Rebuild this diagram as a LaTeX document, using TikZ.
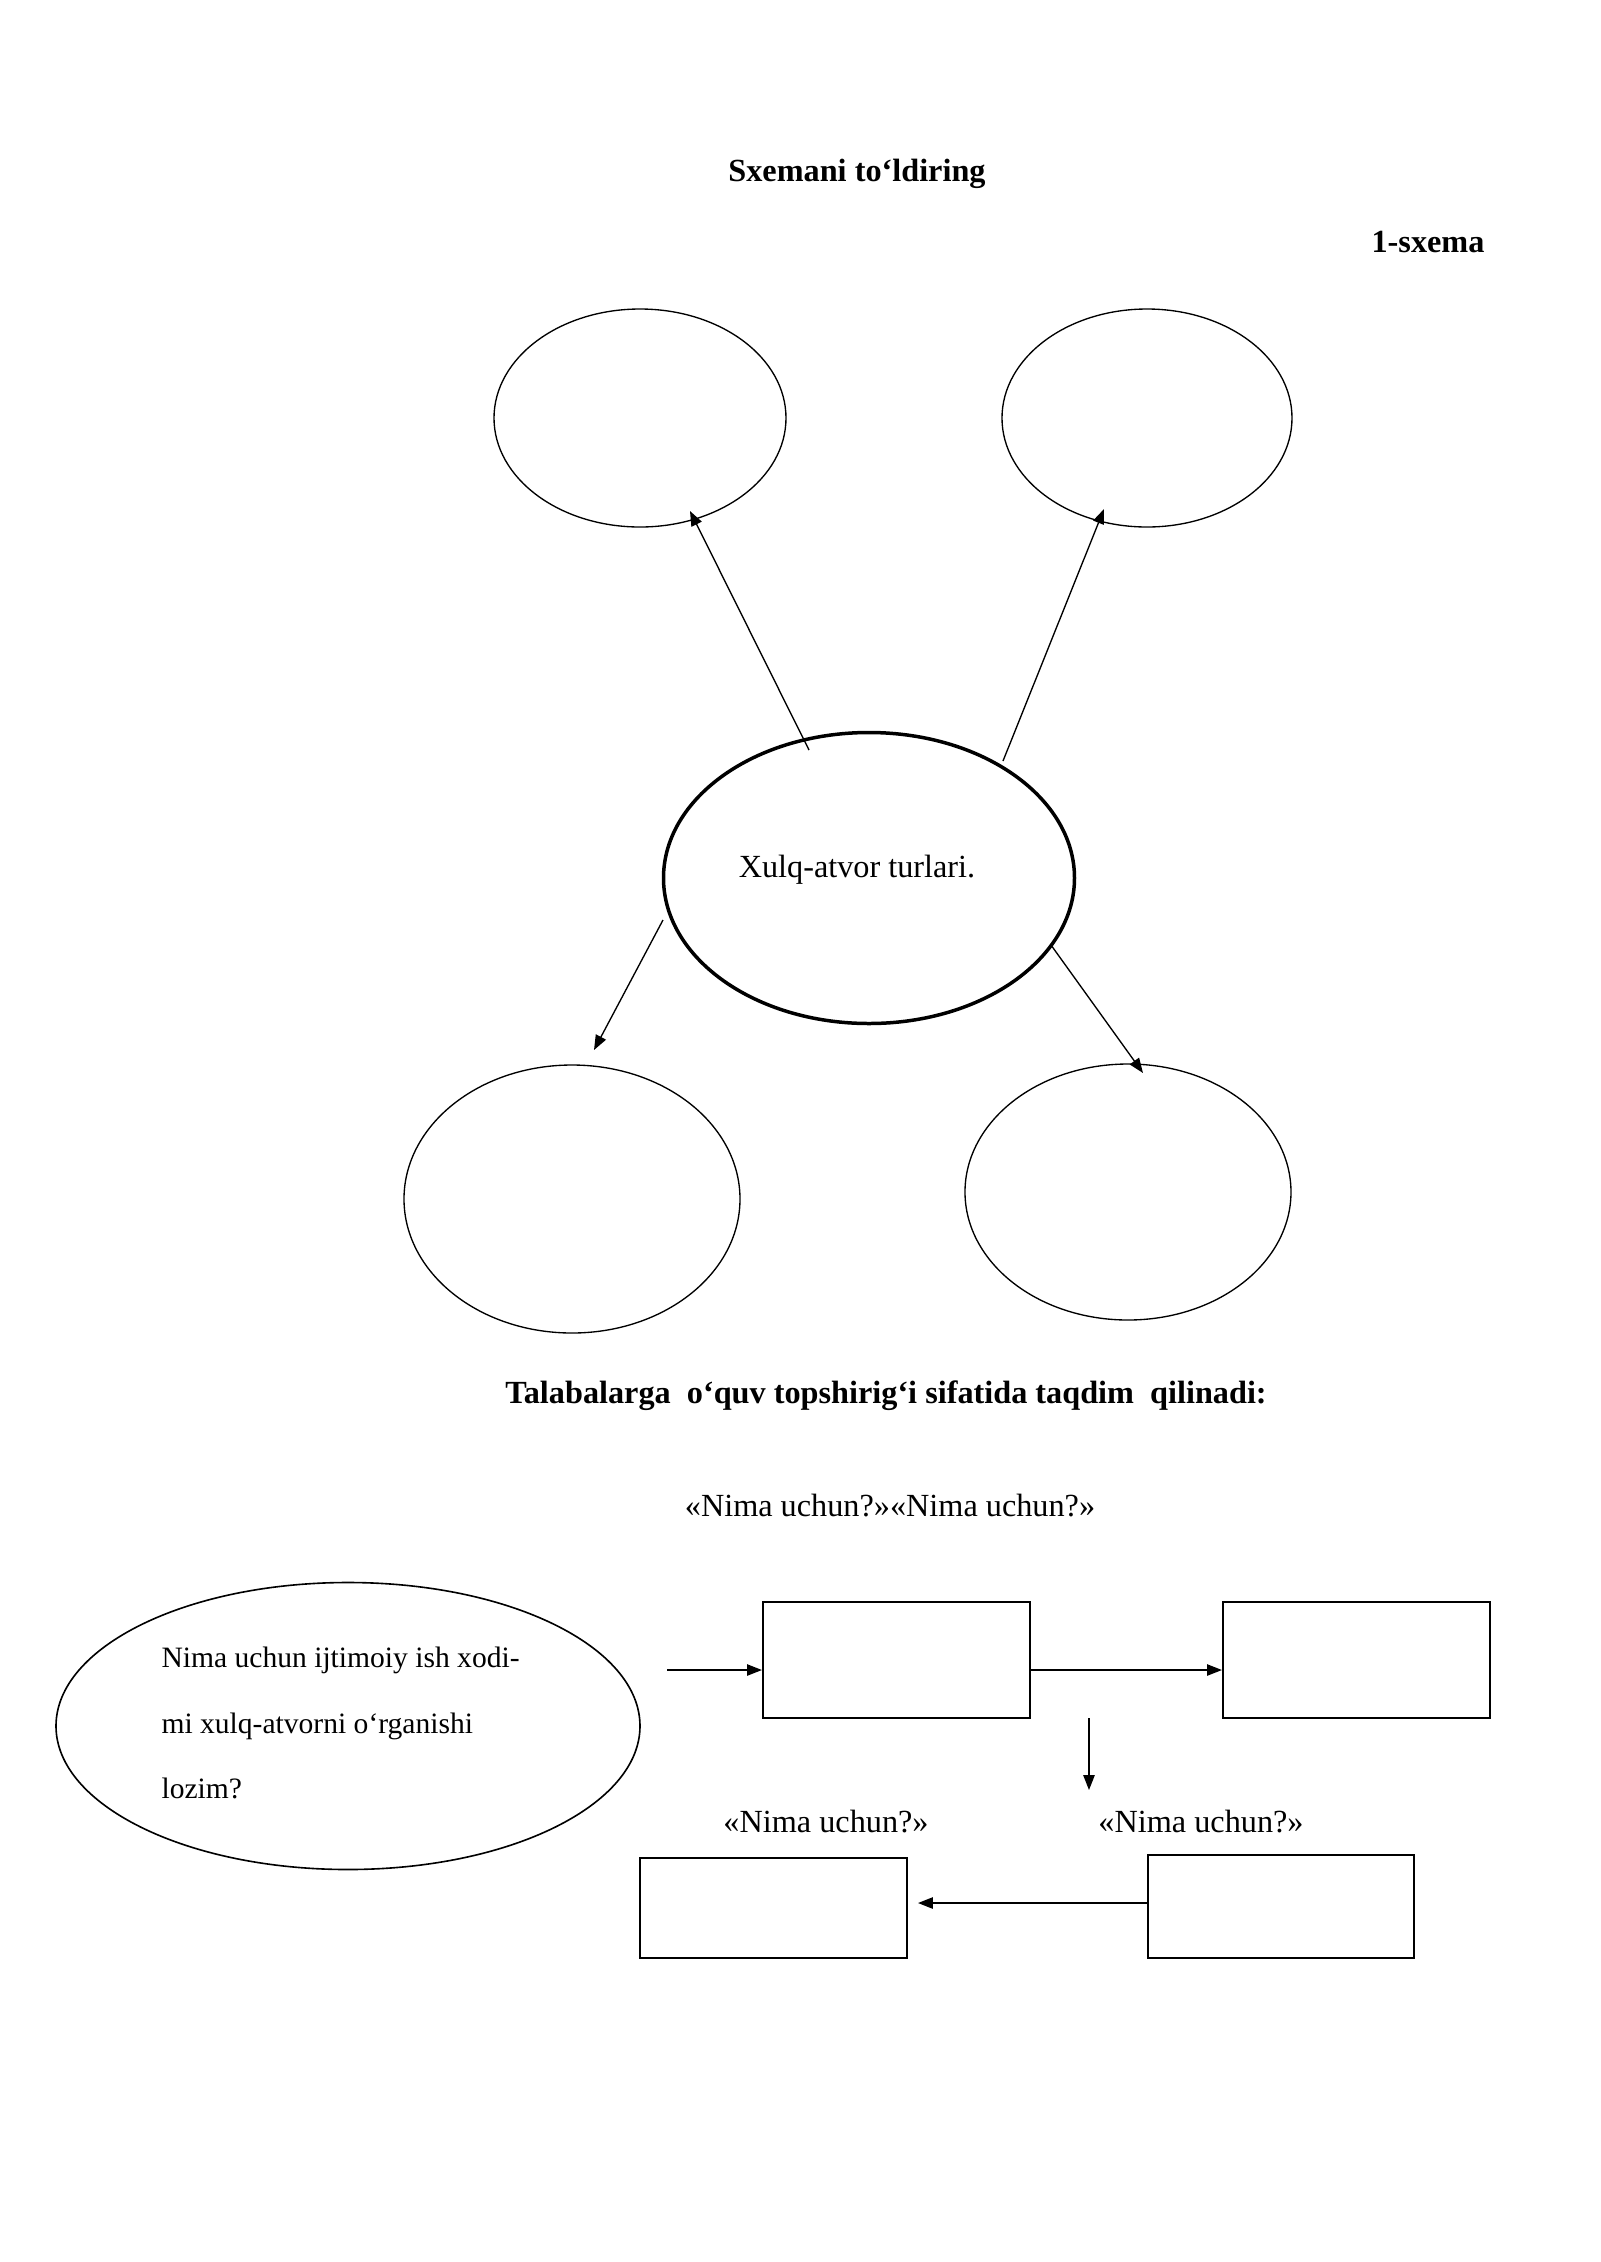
\documentclass[tikz,border=0pt]{standalone}
\usepackage{fontspec}
\setmainfont{Liberation Serif}
\usetikzlibrary{shapes.geometric,arrows.meta}
\newlength\pxu
\setlength\pxu{0.37202pt}
\begin{document}
\begin{tikzpicture}[x=0.37202pt,y=-0.37202pt,
  oval/.style={ellipse,draw,line width=0.5pt,inner sep=0pt},
  mainoval/.style={ellipse,draw,line width=1.3pt,inner sep=0pt},
  box/.style={rectangle,draw,line width=0.8pt,inner sep=0pt},
  arr/.style={-{Triangle[length=5.5pt,width=4.2pt]},line width=0.5pt},
  txt/.style={inner sep=0pt,font=\fontsize{12}{14}\selectfont},
  btxt/.style={inner sep=0pt,font=\fontsize{12}{14}\selectfont\bfseries},
  qtxt/.style={inner sep=0pt,font=\fontsize{11}{13}\selectfont,anchor=base west},
]
\useasboundingbox[fill=white] (0,0) rectangle (1600,2262);

% headings
\node[btxt,anchor=base] (title) at (857,181) {Sxemani to‘ldiring};
\node[btxt,anchor=base east] (sx) at (1485,252) {1-sxema};

% scheme 1
\node[oval,minimum width=292\pxu,minimum height=218\pxu] (tl) at (640,418) {};
\node[oval,minimum width=290\pxu,minimum height=218\pxu] (tr) at (1147,418) {};
\node[mainoval,minimum width=411\pxu,minimum height=291\pxu] (c) at (869,878) {};
\node[txt,anchor=base] (ctext) at (857,877) {Xulq-atvor turlari.};
\node[oval,minimum width=336\pxu,minimum height=268\pxu] (bl) at (572,1199) {};
\node[oval,minimum width=326\pxu,minimum height=256\pxu] (br) at (1128,1192) {};

\coordinate (s1) at (809,750);  \coordinate (e1) at (690,511);
\coordinate (s2) at (1003,761); \coordinate (e2) at (1104,509);
\coordinate (s3) at (663,920);  \coordinate (e3) at (594,1050);
\coordinate (s4) at (1051,945); \coordinate (e4) at (1143,1073);
\draw[arr] (s1) -- (e1);
\draw[arr] (s2) -- (e2);
\draw[arr] (s3) -- (e3);
\draw[arr] (s4) -- (e4);

% task heading
\node[btxt,anchor=base] (head) at (886,1403) {Talabalarga\ \ o‘quv topshirig‘i sifatida taqdim\ \ qilinadi:};
\node[txt,anchor=base] (nn) at (890,1516) {«Nima uchun?»«Nima uchun?»};

% scheme 2
\node[oval,line width=0.6pt,minimum width=584\pxu,minimum height=287\pxu] (q) at (348,1726) {};
\node[qtxt] (q1) at (161,1667) {Nima uchun ijtimoiy ish xodi-};
\node[qtxt] (q2) at (161,1733) {mi xulq-atvorni o‘rganishi};
\node[qtxt] (q3) at (161,1798) {lozim?};

\node[box,minimum width=267\pxu,minimum height=116\pxu] (b1) at (896.5,1660) {};
\node[box,minimum width=267\pxu,minimum height=116\pxu] (b2) at (1356.5,1660) {};
\node[box,minimum width=267\pxu,minimum height=100\pxu] (b3) at (773.5,1908) {};
\node[box,minimum width=266\pxu,minimum height=103\pxu] (b4) at (1281,1906.5) {};

\node[txt,anchor=base] (n1) at (826,1832) {«Nima uchun?»};
\node[txt,anchor=base] (n2) at (1201,1832) {«Nima uchun?»};

\coordinate (qa) at (667,1670);
\draw[arr] (qa) -- (qa -| b1.west);
\draw[arr] (b1.east |- qa) -- (b2.west |- qa);
\coordinate (da) at (1089,1718);
\coordinate (db) at (1089,1790);
\draw[arr] (da) -- (db);
\coordinate (la) at (918,1903);
\draw[arr] (b4.west |- la) -- (la);
\end{tikzpicture}
\end{document}
